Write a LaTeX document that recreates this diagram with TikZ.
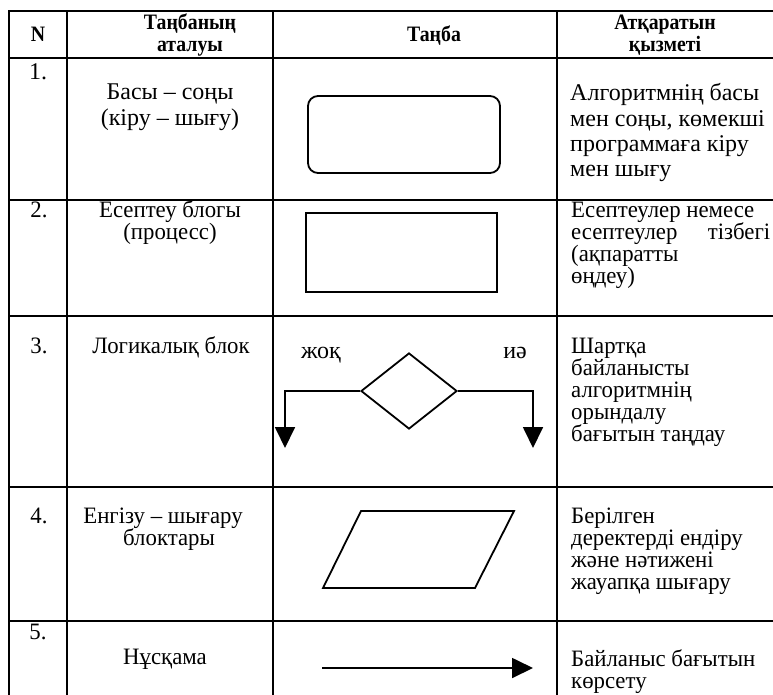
\documentclass[tikz,border=0pt]{standalone}
\usepackage{fontspec}
\setmainfont{Liberation Serif}
\newfontfamily\narrowfont[FakeStretch=0.97]{Liberation Serif}
\newfontfamily\hdrfont[FakeStretch=0.9]{Liberation Serif}
\usetikzlibrary{arrows.meta,shapes.geometric}
\begin{document}
\begin{tikzpicture}[x=1pt,y=-1pt,
  tline/.style={line width=2.4pt, line cap=rect},
  symb/.style={draw, line width=1.8pt},
  body/.style={font=\fontsize{24}{26}\selectfont, inner sep=0pt},
  nbody/.style={font=\narrowfont\fontsize{23.5}{26}\selectfont, inner sep=0pt},
  hdr/.style={font=\hdrfont\fontsize{22}{20}\selectfont\bfseries, inner sep=0pt},
  tip/.style={-{Triangle[width=20pt,length=21pt]}, line width=1.8pt}]
\useasboundingbox (0,0) rectangle (773,694);
% table grid
\foreach \y in {11,58,200,316,487,621} \draw[tline] (9,\y) -- (775,\y);
\foreach \x in {9,67,273,557} \draw[tline] (\x,11) -- (\x,696);
% header
\node[hdr, anchor=base] (hN) at (38,41) {N};
\node[hdr, anchor=base] (h2a) at (190,29) {Таңбаның};
\node[hdr, anchor=base] (h2b) at (190,51) {аталуы};
\node[hdr, anchor=base] (h3) at (434,41) {Таңба};
\node[hdr, anchor=base] (h4a) at (665,29) {Атқаратын};
\node[hdr, anchor=base] (h4b) at (665,51) {қызметі};
% row 1
\node[body, anchor=base] (n1) at (38,79) {1.};
\node[body, anchor=base] (t1a) at (170,99) {Басы – соңы};
\node[body, anchor=base] (t1b) at (170,125) {(кіру – шығу)};
\node[symb, rounded corners=10pt, minimum width=192pt, minimum height=77pt, inner sep=0pt] (term) at (404,134.5) {};
\node[body, anchor=base west] (d1a) at (570,100) {Алгоритмнің басы};
\node[body, anchor=base west] (d1b) at (570,126) {мен соңы, көмекші};
\node[body, anchor=base west] (d1c) at (570,151) {программаға кіру};
\node[body, anchor=base west] (d1d) at (570,176) {мен шығу};
% row 2
\node[nbody, anchor=base] (n2) at (39,217) {2.};
\node[nbody, anchor=base] (t2a) at (170,217) {Есептеу блогы};
\node[nbody, anchor=base] (t2b) at (170,239) {(процесс)};
\node[symb, minimum width=191pt, minimum height=79pt, inner sep=0pt] (proc) at (401.5,252.5) {};
\node[nbody, anchor=base west] (d2a) at (571,217) {Есептеулер немесе};
\node[nbody, anchor=base west] (d2b) at (571,239) {\makebox[199pt][s]{есептеулер тізбегі}};
\node[nbody, anchor=base west] (d2c) at (571,261) {(ақпаратты};
\node[nbody, anchor=base west] (d2d) at (571,283) {өңдеу)};
% row 3
\node[nbody, anchor=base] (n3) at (39,353) {3.};
\node[nbody, anchor=base] (t3a) at (171,353) {Логикалық блок};
\node[symb, diamond, minimum width=96pt, minimum height=76pt, inner sep=0pt] (dia) at (409,391) {};
\coordinate (no) at (285,448);
\coordinate (yes) at (533,448);
\draw[tip] (dia.west) -| (no);
\draw[tip] (dia.east) -| (yes);
\node[body, anchor=base] (lno) at (321,358) {жоқ};
\node[body, anchor=base] (lyes) at (515,358) {иә};
\node[nbody, anchor=base west] (d3a) at (571,353) {Шартқа};
\node[nbody, anchor=base west] (d3b) at (571,375) {байланысты};
\node[nbody, anchor=base west] (d3c) at (571,397) {алгоритмнің};
\node[nbody, anchor=base west] (d3d) at (571,419) {орындалу};
\node[nbody, anchor=base west] (d3e) at (571,441) {бағытын таңдау};
% row 4
\node[nbody, anchor=base] (n4) at (39,523) {4.};
\node[nbody, anchor=base] (t4a) at (163,523) {Енгізу – шығару};
\node[nbody, anchor=base] (t4b) at (169,545) {блоктары};
\coordinate (p1) at (361,511);
\coordinate (p2) at (514,511);
\coordinate (p3) at (475,588);
\coordinate (p4) at (323,588);
\draw[symb, line join=miter] (p1) -- (p2) -- (p3) -- (p4) -- cycle;
\node[nbody, anchor=base west] (d4a) at (571,523) {Берілген};
\node[nbody, anchor=base west] (d4b) at (571,545) {деректерді ендіру};
\node[nbody, anchor=base west] (d4c) at (571,567) {және нәтижені};
\node[nbody, anchor=base west] (d4d) at (571,589) {жауапқа шығару};
% row 5
\node[nbody, anchor=base] (n5) at (38,639) {5.};
\node[nbody, anchor=base] (t5a) at (165,664) {Нұсқама};
\coordinate (a5s) at (322,668);
\coordinate (a5e) at (533,668);
\draw[tip] (a5s) -- (a5e);
\node[nbody, anchor=base west] (d5a) at (571,666) {Байланыс бағытын};
\node[nbody, anchor=base west] (d5b) at (571,688) {көрсету};
\end{tikzpicture}
\end{document}
